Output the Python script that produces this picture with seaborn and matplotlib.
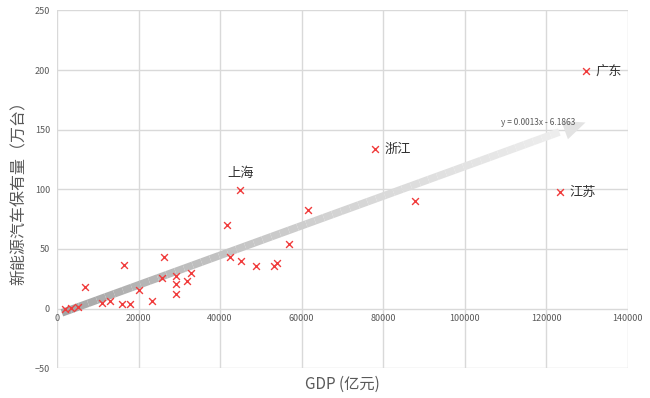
import numpy as np
import pandas as pd
import matplotlib
matplotlib.use("Agg")
import matplotlib.pyplot as plt
from matplotlib.collections import LineCollection
import seaborn as sns

# GDP (亿元) and NEV stock (万台), 31 provinces
gdp = [1900, 3400, 5100, 6900, 11100, 13000, 16400, 15900, 17800, 20200,
       23300, 26300, 25700, 29300, 29100, 29100, 32000, 32800, 61500, 41600,
       57000, 42500, 45100, 48800, 53300, 54000, 44900, 87800, 129700, 78000,
       123300]
nev = [0, 0.5, 1.7, 18, 5, 6.7, 37, 4, 4, 16,
       6, 43.5, 26, 27, 21, 12, 23, 30, 83, 70.5,
       54, 43, 40, 35.6, 35.6, 38.4, 99.5, 90.5, 199, 133.4,
       97.5]

label_names = ["上海", "广东", "浙江", "江苏"]
label_x = [41700, 132000, 80200, 125600]
label_y = [113, 199, 133.4, 97.5]

# trend arrow ends, as drawn in the picture
trend_x = [1200, 129600]
trend_y = [-3.5, 156]
trend_text = "y = 0.0013x - 6.1863"

x_ticks = [0, 20000, 40000, 60000, 80000, 100000, 120000, 140000]
y_ticks = [-50, 0, 50, 100, 150, 200, 250]

sns.set_theme(style="white")
plt.rcParams["font.family"] = ["Noto Sans CJK SC", "DejaVu Sans"]

df = pd.DataFrame({"gdp": gdp, "nev": nev})

fig, ax = plt.subplots(figsize=(6.5, 3.98), dpi=100)
fig.subplots_adjust(left=0.0877, right=0.966, top=0.974, bottom=0.0746)

grid_c = "#d9d9d9"
for xv in x_ticks:
    ax.axvline(xv, color=grid_c, lw=1, zorder=0)
for yv in y_ticks:
    ax.axhline(yv, color=grid_c, lw=1, zorder=0)

# gradient shaft, then a plain head on the end
n = 60
xs = np.linspace(trend_x[0], trend_x[1], n + 1)
ys = np.linspace(trend_y[0], trend_y[1], n + 1)
shaft_end = n - 3
segs = [[(xs[i], ys[i]), (xs[i + 1], ys[i + 1])] for i in range(shaft_end)]
cols = [plt.cm.Greys(0.45 - 0.33 * i / n) for i in range(shaft_end)]
lc = LineCollection(segs, colors=cols, linewidths=5.5, capstyle="butt", zorder=1)
ax.add_collection(lc)
ax.annotate("", xy=(trend_x[1], trend_y[1]), xytext=(xs[shaft_end - 2], ys[shaft_end - 2]),
            arrowprops=dict(arrowstyle="-|>,head_length=0.8,head_width=0.35",
                            mutation_scale=20, fc="#e3e3e3", ec="none", lw=0,
                            shrinkA=0, shrinkB=0),
            zorder=1)

sns.scatterplot(data=df, x="gdp", y="nev", marker="x", color="#f03c3c",
                s=24, linewidth=1.0, ax=ax, zorder=3)

for name, lx, ly in zip(label_names, label_x, label_y):
    ax.text(lx, ly, name, fontsize=9.5, color="#333333", ha="left", va="center")

ax.text(127200, 156, trend_text, fontsize=6, color="#595959", ha="right", va="center")

ax.set_xlim(0, 140000)
ax.set_ylim(-50, 250)
ax.set_xticks(x_ticks)
ax.set_yticks(y_ticks)
for s in ["top", "right", "left"]:
    ax.spines[s].set_visible(False)
ax.spines["bottom"].set_position(("data", 0))
ax.spines["bottom"].set_visible(False)
ax.tick_params(axis="both", length=0, labelsize=6.5, colors="#595959")
ax.tick_params(axis="x", pad=4)
ax.tick_params(axis="y", pad=5)

ax.set_xlabel("GDP (亿元)", fontsize=11, color="#595959")
ax.set_ylabel("新能源汽车保有量（万台）", fontsize=11.5, color="#595959")
ax.xaxis.set_label_coords(0.5, -0.02)
ax.yaxis.set_label_coords(-0.052, 0.5)

plt.savefig("out.png", dpi=100, facecolor="w")
